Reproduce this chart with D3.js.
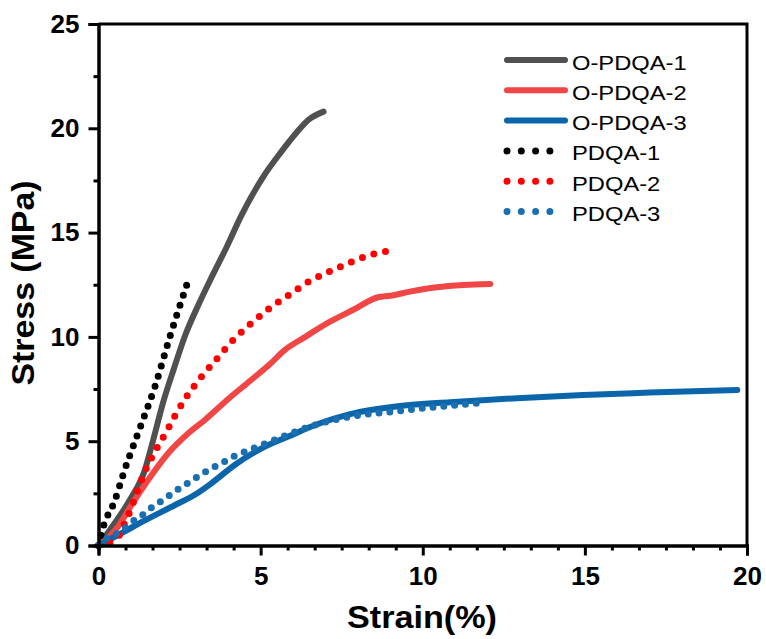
<!DOCTYPE html>
<html>
<head>
<meta charset="utf-8">
<script src="https://cdn.jsdelivr.net/npm/d3@7"></script>
<style>
  html, body { margin: 0; padding: 0; background: #fff; }
  svg { display: block; }
</style>
</head>
<body>
<svg id="chart" width="766" height="639"></svg>
<script>
// Stress–strain curves: [strain %, stress MPa]
const oPdqa1 = [[0,0],[0.35,0.75],[0.97,2.19],[1.43,3.62],[1.66,4.9],[2.0,6.9],[2.33,8.5],[2.68,10.1],[3.1,11.6],[3.5,12.9],[3.95,14.3],[4.4,15.8],[5.09,17.7],[5.6,18.8],[6.11,19.8],[6.47,20.4],[6.94,20.8]];
const oPdqa2 = [[0,0],[0.6,0.9],[1.02,1.95],[1.53,3.14],[2.15,4.42],[2.77,5.38],[3.28,6.02],[4.02,7.05],[4.68,7.9],[5.29,8.7],[5.75,9.38],[6.31,9.94],[7.14,10.73],[7.86,11.3],[8.62,11.9],[8.99,11.97],[9.6,12.17],[10.43,12.38],[11.25,12.49],[12.08,12.54]];
const oPdqa3 = [[0,0],[0.81,0.68],[1.43,1.2],[2.35,1.93],[2.97,2.43],[3.48,2.98],[4.2,3.86],[5.03,4.66],[5.85,5.22],[6.72,5.8],[7.76,6.3],[9.3,6.69],[10.84,6.87],[12.9,7.06],[14.95,7.22],[17.0,7.33],[19.7,7.46]];
const pdqa1 = [[0,0],[0.14,0.86],[0.5,2.14],[0.78,3.5],[1.32,5.81],[1.74,7.62],[2.2,10.0],[2.72,12.49]];
const pdqa2 = [[0,0],[0.4,0.19],[0.66,0.54],[0.81,1.07],[0.97,1.63],[1.17,2.5],[1.43,3.54],[1.74,4.5],[2.08,5.41],[2.4,6.34],[2.72,7.14],[3.18,8.1],[3.65,8.95],[4.16,9.86],[4.77,10.73],[5.34,11.45],[5.96,12.1],[6.57,12.73],[6.94,13.0],[7.66,13.5],[8.45,13.96],[8.86,14.1]];
const pdqa3 = [[0,0],[0.19,0.27],[0.5,0.51],[0.87,0.9],[1.12,1.23],[1.43,1.55],[1.68,1.87],[2.0,2.19],[2.25,2.47],[2.54,2.79],[2.87,3.1],[3.18,3.42],[3.5,3.7],[3.88,4.02],[4.26,4.34],[4.61,4.55],[4.96,4.77],[5.34,5.0],[5.9,5.35],[6.52,5.7],[7.76,6.18],[9.09,6.42],[10.32,6.63],[11.66,6.82]];

const seriesNames = ["O-PDQA-1","O-PDQA-2","O-PDQA-3","PDQA-1","PDQA-2","PDQA-3"];
const seriesData = [oPdqa1, oPdqa2, oPdqa3, pdqa1, pdqa2, pdqa3];
const seriesColors = ["#505050","#f04646","#0b65ab","#000000","#ff0000","#1a6fb0"];
const seriesDotted = [false,false,false,true,true,true];
const dotGap = [0,0,0,10.5,12,11];

const xTicks = [0,5,10,15,20];
const yTicks = [0,5,10,15,20,25];

const svg = d3.select("#chart");
const plotLeft = 98.5, plotRight = 747, plotTop = 24, plotBottom = 545.5;
const fontFam = "'Liberation Sans', Arial, sans-serif";

const x = d3.scaleLinear().domain([0,20]).range([plotLeft,plotRight]);
const y = d3.scaleLinear().domain([0,25]).range([plotBottom,plotTop]);

const line = d3.line().x(d => x(d[0])).y(d => y(d[1])).curve(d3.curveMonotoneX);

// curves: solid first, dotted on top
seriesData.forEach((data, i) => {
  const p = svg.append("path")
    .datum(data)
    .attr("d", line)
    .attr("fill","none")
    .attr("stroke", seriesColors[i])
    .attr("stroke-linecap","round")
    .attr("stroke-linejoin","round");
  if (seriesDotted[i]) {
    // spread the dots so one sits on each end of the curve
    const len = p.node().getTotalLength();
    const gap = (len / Math.max(1, Math.round(len / dotGap[i]))) * 0.999;
    p.attr("stroke-width",7).attr("stroke-dasharray", `0 ${gap}`);
  } else {
    p.attr("stroke-width",6);
  }
});

// frame
svg.append("path")
  .attr("d", `M${plotLeft},${plotTop}H${plotRight}V${plotBottom}`)
  .attr("fill","none").attr("stroke","#000").attr("stroke-width",3);

// axes
const xAxis = d3.axisBottom(x).tickValues(xTicks).tickSize(10).tickPadding(11).tickFormat(d3.format("d"));
const xMinor = d3.axisBottom(x).tickValues(d3.range(0,20.001,5/6).filter(v => Math.abs(v/5 - Math.round(v/5)) > 1e-6)).tickSize(5).tickFormat("");
const yAxis = d3.axisLeft(y).tickValues(yTicks).tickSize(10).tickPadding(9).tickFormat(d3.format("d"));
const yMinor = d3.axisLeft(y).tickValues([2.5,7.5,12.5,17.5,22.5]).tickSize(5).tickFormat("");

function styleAxis(g) {
  g.select(".domain").attr("stroke","#000").attr("stroke-width",3);
  g.selectAll(".tick line").attr("stroke","#000").attr("stroke-width",3);
  g.selectAll(".tick text").attr("fill","#000")
    .style("font-family",fontFam)
    .style("font-weight","bold").style("font-size","26px");
}

svg.append("g").attr("transform",`translate(0,${plotBottom})`).call(xMinor).call(styleAxis);
svg.append("g").attr("transform",`translate(0,${plotBottom})`).call(xAxis).call(styleAxis);
svg.append("g").attr("transform",`translate(${plotLeft},0)`).call(yMinor).call(styleAxis);
svg.append("g").attr("transform",`translate(${plotLeft},0)`).call(yAxis).call(styleAxis);

// axis titles
svg.append("text")
  .attr("x", 422).attr("y", 628)
  .attr("text-anchor","middle")
  .attr("textLength",150).attr("lengthAdjust","spacingAndGlyphs")
  .style("font-family",fontFam)
  .style("font-weight","bold").style("font-size","31px")
  .text("Strain(%)");
svg.append("text")
  .attr("transform",`translate(34,283) rotate(-90)`)
  .attr("text-anchor","middle")
  .attr("textLength",205).attr("lengthAdjust","spacingAndGlyphs")
  .style("font-family",fontFam)
  .style("font-weight","bold").style("font-size","31px")
  .text("Stress (MPa)");

// legend
const legX0 = 507, legX1 = 565, legTextX = 572, legY0 = 60, legDy = 30.3;
seriesNames.forEach((name,i) => {
  const yy = legY0 + i*legDy;
  const lp = svg.append("line")
    .attr("x1",legX0).attr("x2",legX1).attr("y1",yy).attr("y2",yy)
    .attr("stroke",seriesColors[i]).attr("stroke-linecap","round");
  if (seriesDotted[i]) lp.attr("stroke-width",7).attr("stroke-dasharray","0 14.3").attr("x2",legX0+44);
  else lp.attr("stroke-width",6);
  svg.append("text")
    .attr("transform",`translate(${legTextX},${yy+2}) scale(1.13,1)`)
    .attr("dy","0.36em")
    .style("font-family",fontFam)
    .style("font-size","21px")
    .text(name);
});
</script>
</body>
</html>
